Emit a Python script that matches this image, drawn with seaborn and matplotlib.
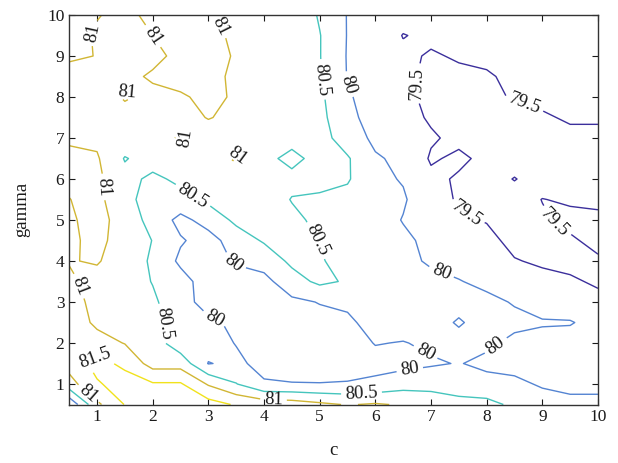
import numpy as np
import pandas as pd
import matplotlib
matplotlib.use("Agg")
import matplotlib.pyplot as plt
import seaborn as sns

# ---- data (accuracy on a c x gamma grid) ----
c_values = [0.5, 1.0, 1.5, 2.0, 2.5, 3.0, 3.5, 4.0, 4.5, 5.0,
            5.5, 6.0, 6.5, 7.0, 7.5, 8.0, 8.5, 9.0, 9.5, 10.0]
gamma_values = [0.5, 1.0, 1.5, 2.0, 2.5, 3.0, 3.5, 4.0, 4.5, 5.0,
                5.5, 6.0, 6.5, 7.0, 7.5, 8.0, 8.5, 9.0, 9.5, 10.0]

acc_g0_5 = [79.6, 80.9, 81.52, 81.8, 81.8, 81.7, 81.45, 81.3, 81.25, 81.1, 80.97, 81.05, 80.95, 80.85, 80.7, 80.65, 80.4, 80.2, 80.1, 80.1]
acc_g1_0 = [80.8, 81.45, 81.7, 81.55, 81.55, 80.95, 80.52, 80.05, 80.03, 80.02, 80.04, 80.1, 80.3, 80.3, 80.2, 80.15, 80.1, 79.95, 79.9, 79.9]
acc_g1_5 = [81.2, 81.65, 81.4, 80.8, 80.8, 79.98, 80.1, 79.85, 79.7, 79.7, 79.75, 79.85, 79.85, 79.95, 80.02, 79.9, 79.85, 79.8, 79.8, 79.85]
acc_g2_0 = [81.35, 81.2, 80.98, 80.75, 80.2, 80.2, 79.98, 79.8, 79.75, 79.7, 79.8, 80.02, 79.98, 80.08, 80.1, 80.08, 79.9, 79.85, 79.82, 79.8]
acc_g2_5 = [81.3, 80.9, 80.8, 80.65, 80.3, 80.1, 79.9, 79.8, 79.75, 79.85, 79.9, 80.2, 80.2, 80.12, 79.97, 80.12, 80.1, 80.04, 80.03, 79.85]
acc_g3_0 = [81.2, 80.85, 80.75, 80.58, 80.2, 79.8, 79.8, 79.8, 79.9, 80.02, 80.1, 80.25, 80.2, 80.15, 80.1, 80.1, 79.97, 79.8, 79.75, 79.6]
acc_g3_5 = [81.1, 80.8, 80.75, 80.48, 80.2, 79.75, 79.8, 79.85, 80.3, 80.6, 80.45, 80.2, 80.15, 80.1, 80.02, 79.9, 79.85, 79.6, 79.55, 79.45]
acc_g4_0 = [80.97, 81.05, 80.7, 80.45, 79.9, 79.8, 80.05, 80.2, 80.6, 80.55, 80.3, 80.15, 80.1, 79.95, 79.85, 79.7, 79.52, 79.45, 79.4, 79.45]
acc_g4_5 = [80.9, 81.15, 80.75, 80.49, 80.05, 79.8, 80.25, 80.55, 80.7, 80.48, 80.3, 80.2, 80.08, 79.9, 79.75, 79.6, 79.4, 79.4, 79.45, 79.6]
acc_g5_0 = [80.92, 81.2, 80.75, 80.35, 79.85, 80.2, 80.6, 80.7, 80.6, 80.4, 80.3, 80.2, 79.98, 79.85, 79.55, 79.48, 79.4, 79.45, 79.6, 79.6]
acc_g5_5 = [80.99, 81.15, 80.6, 80.35, 80.35, 80.6, 80.75, 80.75, 80.48, 80.45, 80.35, 80.2, 80.05, 79.7, 79.45, 79.35, 79.3, 79.51, 79.45, 79.4]
acc_g6_0 = [81.1, 81.1, 80.65, 80.4, 80.6, 80.75, 80.85, 80.75, 80.62, 80.6, 80.55, 80.1, 79.97, 79.6, 79.45, 79.3, 79.52, 79.3, 79.3, 79.3]
acc_g6_5 = [81.1, 81.05, 80.47, 80.7, 80.8, 80.85, 81.04, 80.62, 80.38, 80.65, 80.55, 80.05, 79.9, 79.45, 79.58, 79.4, 79.3, 79.3, 79.35, 79.3]
acc_g7_0 = [80.94, 80.9, 80.8, 80.85, 81.04, 80.8, 80.85, 80.8, 80.65, 80.7, 80.25, 79.9, 79.7, 79.55, 79.4, 79.35, 79.35, 79.35, 79.4, 79.4]
acc_g7_5 = [80.85, 80.8, 80.85, 80.9, 80.85, 81.02, 80.9, 80.85, 80.75, 80.65, 80.1, 79.85, 79.65, 79.45, 79.4, 79.4, 79.35, 79.45, 79.55, 79.55]
acc_g8_0 = [80.8, 80.8, 81.04, 80.9, 80.95, 81.1, 80.95, 80.85, 80.8, 80.6, 80.05, 79.8, 79.6, 79.4, 79.42, 79.45, 79.52, 79.6, 79.65, 79.6]
acc_g8_5 = [80.85, 80.8, 80.9, 81.05, 81.15, 81.15, 80.9, 80.85, 80.8, 80.53, 79.98, 79.8, 79.6, 79.4, 79.4, 79.45, 79.6, 79.65, 79.65, 79.65]
acc_g9_0 = [81.06, 80.99, 80.85, 80.9, 81.1, 81.2, 80.95, 80.85, 80.8, 80.52, 79.97, 79.85, 79.6, 79.45, 79.55, 79.6, 79.65, 79.65, 79.65, 79.7]
acc_g9_5 = [81.2, 80.95, 80.9, 81.0, 81.2, 81.15, 80.9, 80.85, 80.8, 80.52, 79.98, 79.85, 79.48, 79.6, 79.65, 79.7, 79.7, 79.7, 79.7, 79.7]
acc_g10_0 = [81.15, 81.02, 80.9, 81.1, 81.2, 81.03, 80.9, 80.85, 80.9, 80.45, 79.98, 79.85, 79.7, 79.7, 79.7, 79.75, 79.75, 79.75, 79.75, 79.75]

levels = [79.5, 80.0, 80.5, 81.0, 81.5]
tick_values = [1, 2, 3, 4, 5, 6, 7, 8, 9, 10]

# ---- styling ----
level_colors = ["#3b2f9c", "#5484d2", "#45c5bd", "#d1b634", "#f1e21c"]

# label spots (where the contour labels sit, as in the reference)
label_spots = [
    (0.69, 9.68), (2.13, 9.6), (3.21, 9.73), (1.59, 8.22), (2.7, 7.08),
    (3.66, 6.68), (1.15, 5.81), (0.63, 3.37), (1.0, 1.59), (0.85, 0.77),
    (4.17, 0.62),
    (5.0, 8.42), (2.73, 5.61), (4.95, 4.51), (2.22, 2.48), (5.75, 0.81),
    (5.48, 8.29), (3.45, 3.94), (3.12, 2.64), (7.19, 3.74), (6.89, 1.75),
    (6.62, 1.34), (8.18, 1.91),
    (6.86, 8.33), (8.69, 7.89), (7.72, 5.38), (9.3, 5.08),
]

sns.set_theme(style="ticks")
plt.rcParams["font.family"] = ["Liberation Serif", "DejaVu Serif"]

rows = [acc_g0_5, acc_g1_0, acc_g1_5, acc_g2_0, acc_g2_5, acc_g3_0, acc_g3_5,
        acc_g4_0, acc_g4_5, acc_g5_0, acc_g5_5, acc_g6_0, acc_g6_5, acc_g7_0,
        acc_g7_5, acc_g8_0, acc_g8_5, acc_g9_0, acc_g9_5, acc_g10_0]
df = pd.DataFrame(rows, index=gamma_values, columns=c_values)

fig = plt.figure(figsize=(6.18, 4.63), dpi=100)
ax = fig.add_axes([0.112, 0.1263, 0.8556, 0.8413])

cs = ax.contour(df.columns.values, df.index.values, df.values,
                levels=levels, colors=level_colors, linewidths=1.0)
ax.clabel(cs, levels, inline=True, fontsize=13.5, colors="#1a1a1a",
          fmt=lambda v: f"{v:g}", manual=label_spots, inline_spacing=4)

ax.set_xlim(min(c_values), max(c_values))
ax.set_ylim(min(gamma_values), max(gamma_values))
ax.set_xticks(tick_values)
ax.set_yticks(tick_values)
ax.tick_params(direction="in", top=True, right=True, length=4, width=0.8,
               labelsize=12.5, colors="#1a1a1a")
for sp in ax.spines.values():
    sp.set_color("#333333")
    sp.set_linewidth(1.0)
ax.set_xlabel("c", fontsize=13.5, labelpad=12, color="#1a1a1a")
ax.set_ylabel("gamma", fontsize=13.5, labelpad=12, color="#1a1a1a")

fig.savefig("out.png", dpi=100)
